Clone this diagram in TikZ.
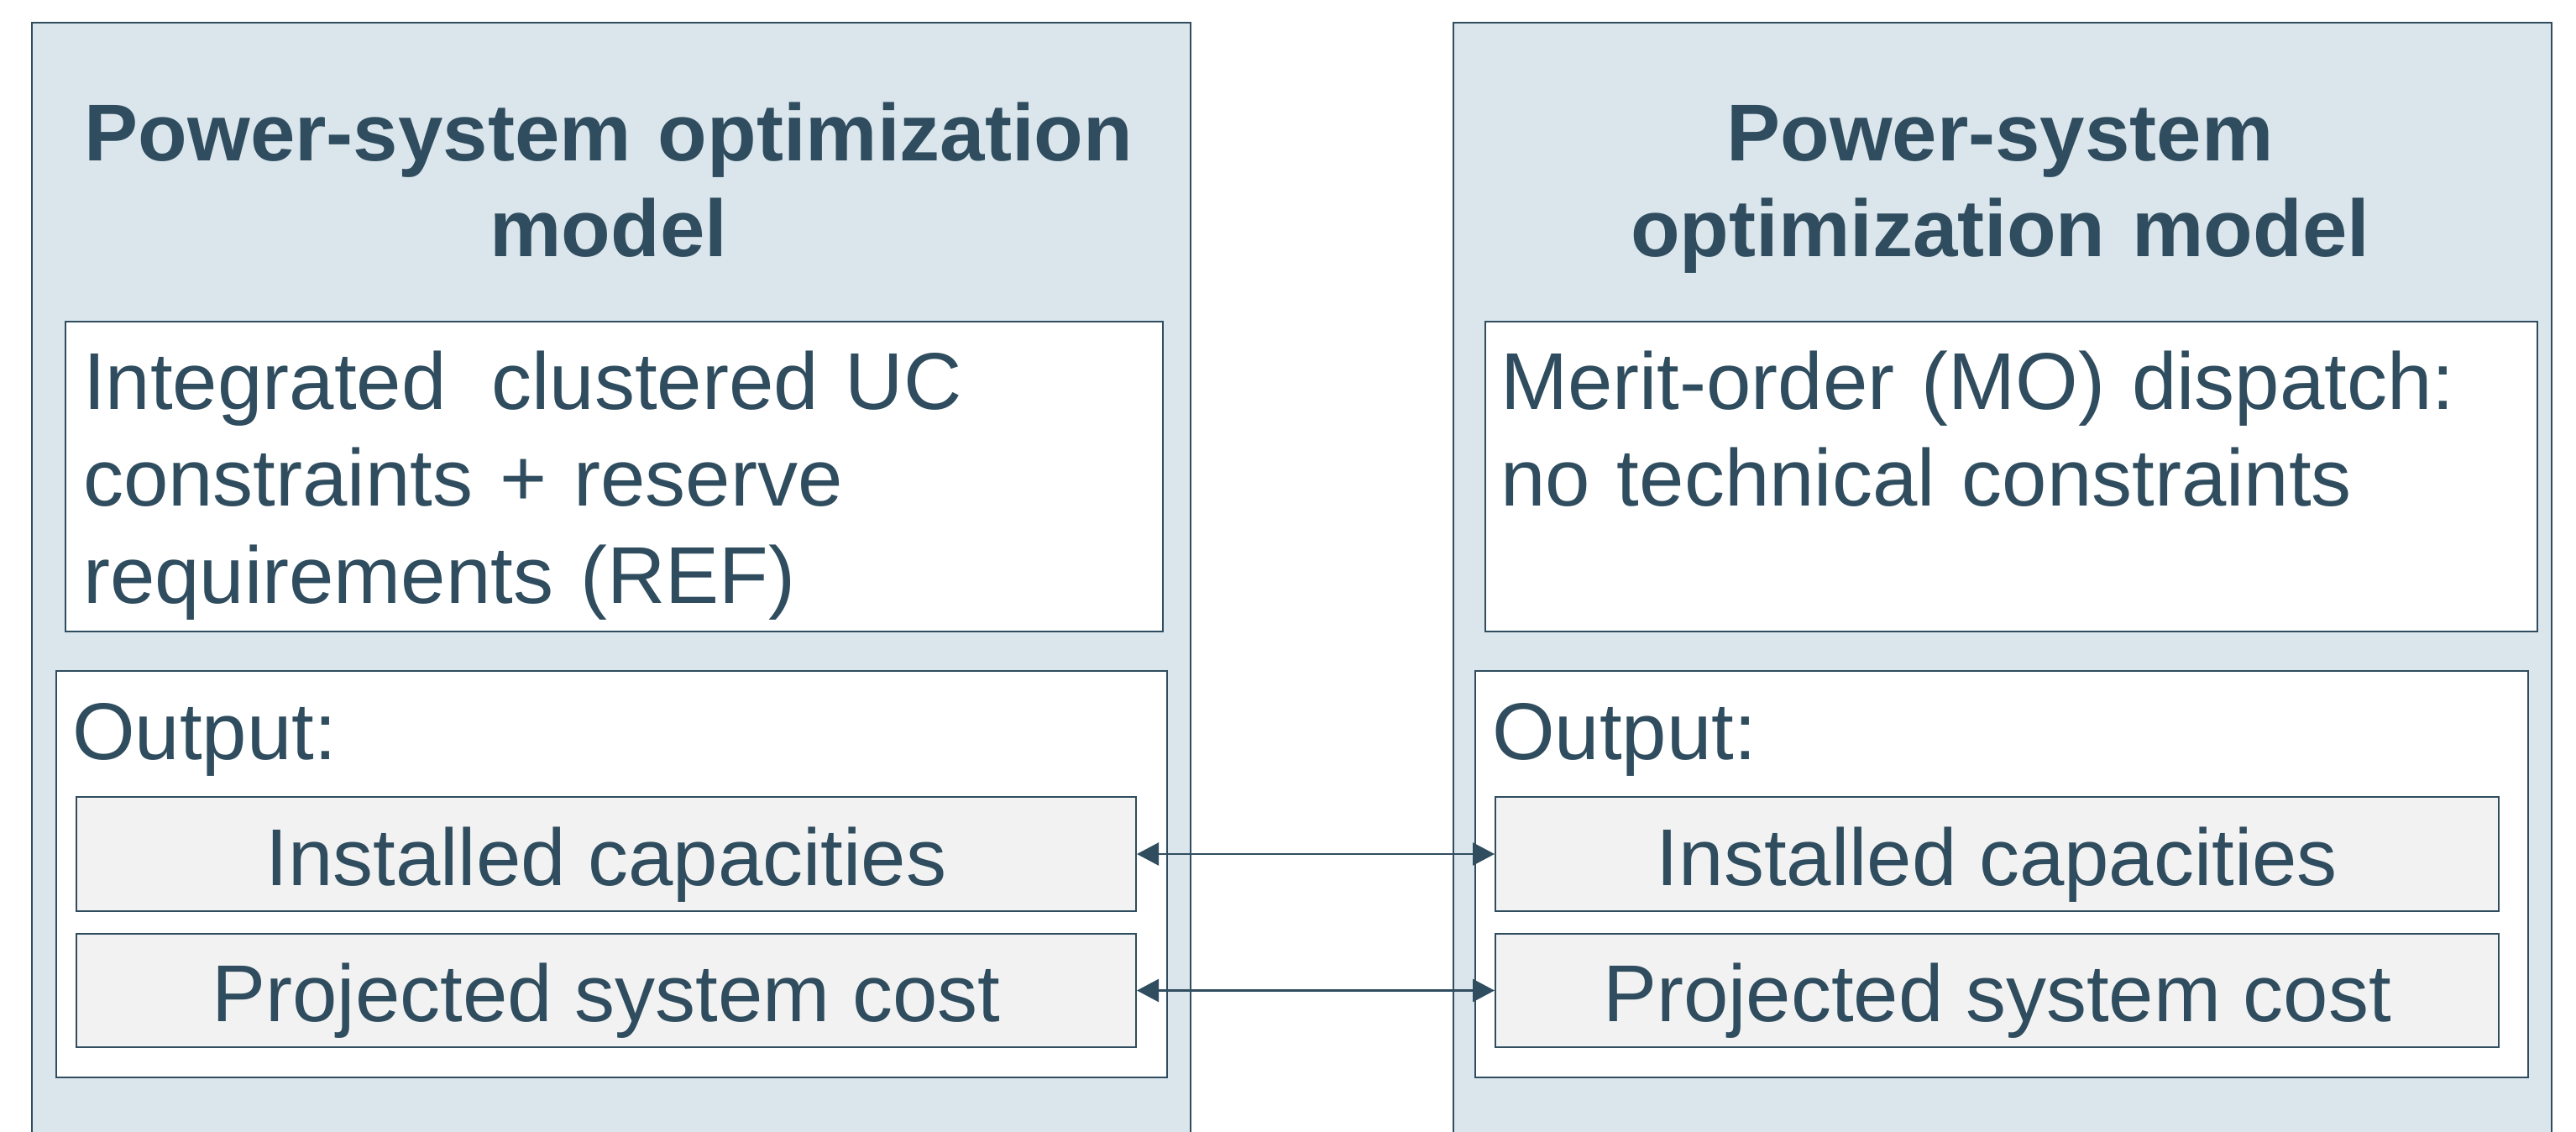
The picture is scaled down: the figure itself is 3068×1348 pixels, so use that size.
\documentclass[tikz,border=0pt]{standalone}
\usepackage{fontspec}
\setmainfont{Liberation Sans}
\usetikzlibrary{arrows.meta}
\definecolor{dk}{HTML}{2F4D5E}
\definecolor{lb}{HTML}{DAE5EC}
\definecolor{gr}{HTML}{F2F2F2}
\begin{document}
\begin{tikzpicture}[x=1pt,y=-1pt,
  outerbox/.style={draw=dk, fill=lb, line width=2.5pt, inner sep=0pt, rectangle},
  innerbox/.style={draw=dk, fill=white, line width=2pt, inner sep=0pt, rectangle},
  graybox/.style={draw=dk, fill=gr, line width=2pt, inner sep=0pt, rectangle},
  txt/.style={text=dk, inner sep=0pt, font=\fontsize{96}{115.5}\selectfont},
  ttl/.style={text=dk, inner sep=0pt, font=\fontsize{96}{114}\selectfont\bfseries},
  conn/.style={draw=dk, line width=2.5pt, {Triangle[length=26pt,width=27pt]}-{Triangle[length=26pt,width=27pt]}}]
\useasboundingbox (0,0) rectangle (3068,1348);
\clip (0,0) rectangle (3068,1348);

% outer panels
\node[outerbox, minimum width=1380pt, minimum height=1373pt] (lo) at (728,713.5) {};
\node[outerbox, minimum width=1308pt, minimum height=1373pt] (ro) at (2385,713.5) {};

% description boxes
\node[innerbox, minimum width=1307pt, minimum height=369pt] (ld) at (731.5,567.5) {};
\node[innerbox, minimum width=1253pt, minimum height=369pt] (rd) at (2395.5,567.5) {};

% output boxes
\node[innerbox, minimum width=1323pt, minimum height=484pt] (lout) at (728.5,1041) {};
\node[innerbox, minimum width=1254pt, minimum height=484pt] (rout) at (2384,1041) {};

% gray result boxes
\node[graybox, minimum width=1262pt, minimum height=136pt] (lg1) at (722,1017) {};
\node[graybox, minimum width=1262pt, minimum height=135pt] (lg2) at (722,1179.5) {};
\node[graybox, minimum width=1195pt, minimum height=136pt] (rg1) at (2378.5,1017) {};
\node[graybox, minimum width=1195pt, minimum height=135pt] (rg2) at (2378.5,1179.5) {};

% connectors
\draw[conn] (lg1.east) -- (rg1.west);
\draw[conn] (lg2.east) -- (rg2.west);

% titles
\node[ttl, text width=1320pt, align=center, anchor=base] (lt) at (725,192) {Power-system optimization\\model};
\node[ttl, text width=1280pt, align=center, anchor=base] (rt) at (2382,192) {Power-system\\optimization model};

% description texts
\node[txt, text width=1270pt, align=left, anchor=base west] (ldt) at (99,487) {Integrated\hspace{54pt}clustered UC\\constraints + reserve\\requirements (REF)};
\node[txt, text width=1220pt, align=left, anchor=base west] (rdt) at (1787,487) {Merit-order (MO) dispatch:\\no technical constraints};

% output labels
\node[txt, anchor=base west] (lot) at (86,904) {Output:};
\node[txt, anchor=base west] (rot) at (1777,904) {Output:};

% result labels
\node[txt, anchor=base] (lg1t) at (722,1054) {Installed capacities};
\node[txt, anchor=base] (lg2t) at (722,1216) {Projected system cost};
\node[txt, anchor=base] (rg1t) at (2378.5,1054) {Installed capacities};
\node[txt, anchor=base] (rg2t) at (2378.5,1216) {Projected system cost};
\end{tikzpicture}
\end{document}
